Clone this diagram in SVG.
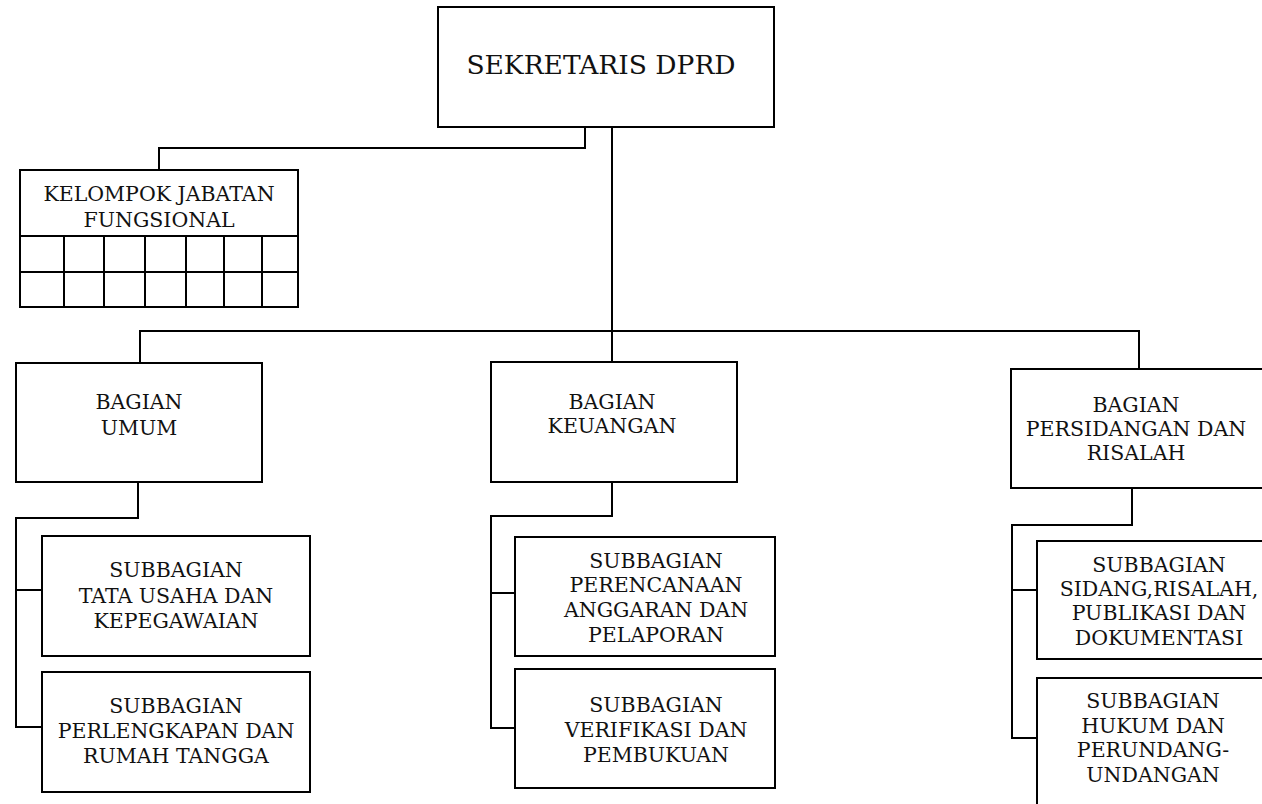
<svg xmlns="http://www.w3.org/2000/svg" width="1262" height="804" viewBox="0 0 1262 804">
<style>
.box{fill:#fff;stroke:#000;stroke-width:2}
.ln{fill:none;stroke:#000;stroke-width:2}
text{font-family:"DejaVu Serif","Liberation Serif",serif;font-size:20.5px;fill:#111;text-anchor:middle}
.big{font-size:26.5px}
</style>
<rect width="1262" height="804" fill="#fff"/>
<g id="connectors">
<polyline class="ln" points="585,127 585,148 159,148 159,170"/>
<line class="ln" x1="612" y1="127" x2="612" y2="362"/>
<polyline class="ln" points="140,363 140,331 1139,331 1139,369"/>
<polyline class="ln" points="138,482 138,518 16,518 16,727 42,727"/>
<line class="ln" x1="16" y1="590" x2="42" y2="590"/>
<polyline class="ln" points="612,482 612,516 491,516 491,728 515,728"/>
<line class="ln" x1="491" y1="593" x2="515" y2="593"/>
<polyline class="ln" points="1132,488 1132,525 1012,525 1012,738 1036,738"/>
<line class="ln" x1="1012" y1="590" x2="1036" y2="590"/>
</g>
<g id="sekretaris">
<rect class="box" x="438" y="7" width="336" height="120"/>
<text class="big" x="601" y="74">SEKRETARIS DPRD</text>
</g>
<g id="kelompok-jabatan-fungsional">
<rect class="box" x="20" y="170" width="278" height="137"/>
<text x="159" y="201">KELOMPOK JABATAN</text>
<text x="159" y="227">FUNGSIONAL</text>
<path class="ln" d="M20,236H298M20,272H298M64,236V307M104,236V307M145,236V307M186,236V307M224,236V307M262,236V307"/>
</g>
<g id="bagian-umum">
<rect class="box" x="16" y="363" width="246" height="119"/>
<text x="139" y="409">BAGIAN</text>
<text x="139" y="435">UMUM</text>
</g>
<g id="bagian-keuangan">
<rect class="box" x="491" y="362" width="246" height="120"/>
<text x="612" y="409">BAGIAN</text>
<text x="612" y="433">KEUANGAN</text>
</g>
<g id="bagian-persidangan">
<rect class="box" x="1011" y="369" width="256" height="119"/>
<text x="1136" y="412">BAGIAN</text>
<text x="1136" y="436">PERSIDANGAN DAN</text>
<text x="1136" y="460">RISALAH</text>
</g>
<g id="sub-tata-usaha">
<rect class="box" x="42" y="536" width="268" height="120"/>
<text x="176" y="577">SUBBAGIAN</text>
<text x="176" y="603">TATA USAHA DAN</text>
<text x="176" y="628">KEPEGAWAIAN</text>
</g>
<g id="sub-perlengkapan">
<rect class="box" x="42" y="672" width="268" height="120"/>
<text x="176" y="713">SUBBAGIAN</text>
<text x="176" y="738">PERLENGKAPAN DAN</text>
<text x="176" y="763">RUMAH TANGGA</text>
</g>
<g id="sub-perencanaan">
<rect class="box" x="515" y="537" width="260" height="119"/>
<text x="656" y="568">SUBBAGIAN</text>
<text x="656" y="592">PERENCANAAN</text>
<text x="656" y="617">ANGGARAN DAN</text>
<text x="656" y="642">PELAPORAN</text>
</g>
<g id="sub-verifikasi">
<rect class="box" x="515" y="669" width="260" height="119"/>
<text x="656" y="712">SUBBAGIAN</text>
<text x="656" y="737">VERIFIKASI DAN</text>
<text x="656" y="762">PEMBUKUAN</text>
</g>
<g id="sub-sidang">
<rect class="box" x="1037" y="541" width="230" height="118"/>
<text x="1159" y="572">SUBBAGIAN</text>
<text x="1159" y="596">SIDANG,RISALAH,</text>
<text x="1159" y="620">PUBLIKASI DAN</text>
<text x="1159" y="645">DOKUMENTASI</text>
</g>
<g id="sub-hukum">
<rect class="box" x="1037" y="678" width="230" height="140"/>
<text x="1153" y="708">SUBBAGIAN</text>
<text x="1153" y="733">HUKUM DAN</text>
<text x="1153" y="757">PERUNDANG-</text>
<text x="1153" y="782">UNDANGAN</text>
</g>
</svg>
